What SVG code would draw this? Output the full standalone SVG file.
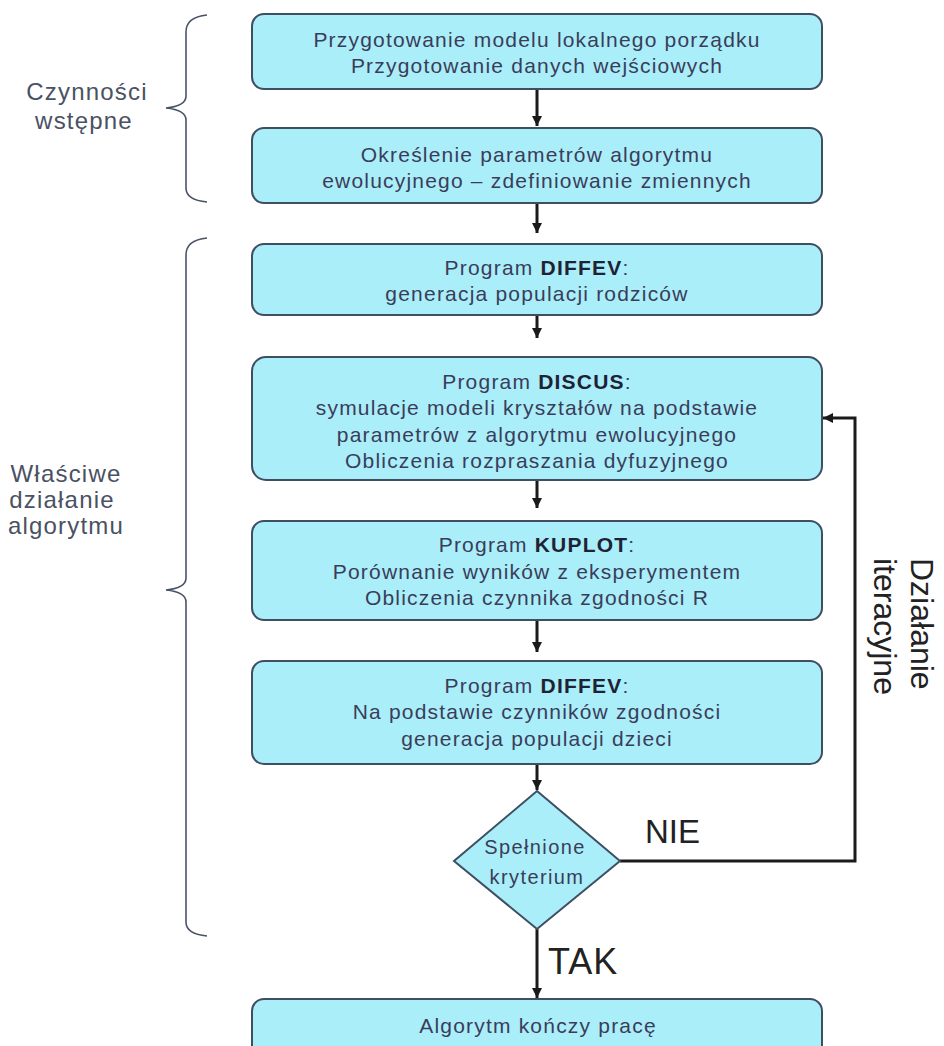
<svg xmlns="http://www.w3.org/2000/svg" width="944" height="1046" viewBox="0 0 944 1046">
<style>
.box{fill:#aaeef9;stroke:#3f4f62;stroke-width:2}
.t{font-family:"Liberation Sans",Arial,sans-serif;font-size:21px;letter-spacing:1.2px;fill:#3a3d5a;text-anchor:middle}
.b{font-weight:bold;fill:#1f2235}
.dt{font-family:"Liberation Sans",Arial,sans-serif;font-size:20px;letter-spacing:1.4px;fill:#3a3d5a;text-anchor:middle}
.side{font-family:"Liberation Sans",Arial,sans-serif;font-size:24px;letter-spacing:1.2px;fill:#4a5163;text-anchor:middle}
.big{font-family:"Liberation Sans",Arial,sans-serif;fill:#222}
.brace{fill:none;stroke:#4a5366;stroke-width:1.6}
.con{fill:none;stroke:#1a1a1a;stroke-width:3}
</style>
<defs>
<marker id="ah" markerUnits="userSpaceOnUse" markerWidth="10" markerHeight="10" refX="10" refY="5" orient="auto">
<path d="M0,0 L10,5 L0,10 z" fill="#1a1a1a"/>
</marker>
</defs>

<g id="braces">
<path class="brace" d="M207 15 Q186 17 186 32 L186 96 Q186 106 166 108 Q186 110 186 120 L186 188 Q186 200 207 202"/>
<path class="brace" d="M207 238 Q186 240 186 255 L186 578 Q186 588 166 590 Q186 592 186 602 L186 922 Q186 934 207 936"/>
</g>

<g id="label-wstepne">
<text class="side" x="87" y="100">Czynności</text>
<text class="side" x="84" y="129">wstępne</text>
</g>
<g id="label-wlasciwe">
<text class="side" x="66" y="482">Właściwe</text>
<text class="side" x="62" y="508">działanie</text>
<text class="side" x="66" y="534">algorytmu</text>
</g>

<g id="connectors">
<line class="con" x1="537" y1="89" x2="537" y2="126" marker-end="url(#ah)"/>
<line class="con" x1="537" y1="204" x2="537" y2="233" marker-end="url(#ah)"/>
<line class="con" x1="537" y1="316" x2="537" y2="338" marker-end="url(#ah)"/>
<line class="con" x1="537" y1="481" x2="537" y2="508" marker-end="url(#ah)"/>
<line class="con" x1="537" y1="621" x2="537" y2="652" marker-end="url(#ah)"/>
<line class="con" x1="537" y1="765" x2="537" y2="790" marker-end="url(#ah)"/>
<line class="con" x1="537" y1="929" x2="537" y2="998" marker-end="url(#ah)"/>
<polyline class="con" points="620,861 855,861 855,418 823,418" marker-end="url(#ah)"/>
</g>

<g id="n1">
<rect class="box" x="252" y="14" width="570" height="75" rx="12"/>
<text class="t" x="537" y="47">Przygotowanie modelu lokalnego porządku</text>
<text class="t" x="537" y="73">Przygotowanie danych wejściowych</text>
</g>
<g id="n2">
<rect class="box" x="252" y="128" width="570" height="75" rx="12"/>
<text class="t" x="537" y="162">Określenie parametrów algorytmu</text>
<text class="t" x="537" y="188">ewolucyjnego – zdefiniowanie zmiennych</text>
</g>
<g id="n3">
<rect class="box" x="252" y="244" width="570" height="71" rx="12"/>
<text class="t" x="537" y="275">Program <tspan class="b">DIFFEV</tspan>:</text>
<text class="t" x="537" y="301">generacja populacji rodziców</text>
</g>
<g id="n4">
<rect class="box" x="252" y="357" width="570" height="123" rx="14"/>
<text class="t" x="537" y="389">Program <tspan class="b">DISCUS</tspan>:</text>
<text class="t" x="537" y="415">symulacje modeli kryształów na podstawie</text>
<text class="t" x="537" y="442">parametrów z algorytmu ewolucyjnego</text>
<text class="t" x="537" y="468">Obliczenia rozpraszania dyfuzyjnego</text>
</g>
<g id="n5">
<rect class="box" x="252" y="521" width="570" height="99" rx="12"/>
<text class="t" x="537" y="552">Program <tspan class="b">KUPLOT</tspan>:</text>
<text class="t" x="537" y="579">Porównanie wyników z eksperymentem</text>
<text class="t" x="537" y="605">Obliczenia czynnika zgodności R</text>
</g>
<g id="n6">
<rect class="box" x="252" y="661" width="570" height="103" rx="12"/>
<text class="t" x="537" y="693">Program <tspan class="b">DIFFEV</tspan>:</text>
<text class="t" x="537" y="719">Na podstawie czynników zgodności</text>
<text class="t" x="537" y="746">generacja populacji dzieci</text>
</g>
<g id="n7">
<polygon class="box" points="537,791 620,861 537,929 454,861"/>
<text class="dt" x="535" y="854">Spełnione</text>
<text class="dt" x="537" y="884">kryterium</text>
</g>
<g id="n8">
<rect class="box" x="252" y="999" width="570" height="70" rx="12"/>
<text class="t" x="538" y="1033">Algorytm kończy pracę</text>
</g>

<g id="labels">
<text class="big" x="645" y="843" font-size="33">NIE</text>
<text class="big" x="548" y="974" font-size="36" letter-spacing="1">TAK</text>
<text class="big" font-size="32" transform="translate(911,0) rotate(90)" x="558" y="0">Działanie</text>
<text class="big" font-size="32" transform="translate(911,0) rotate(90)" x="558" y="37">iteracyjne</text>
</g>
</svg>
